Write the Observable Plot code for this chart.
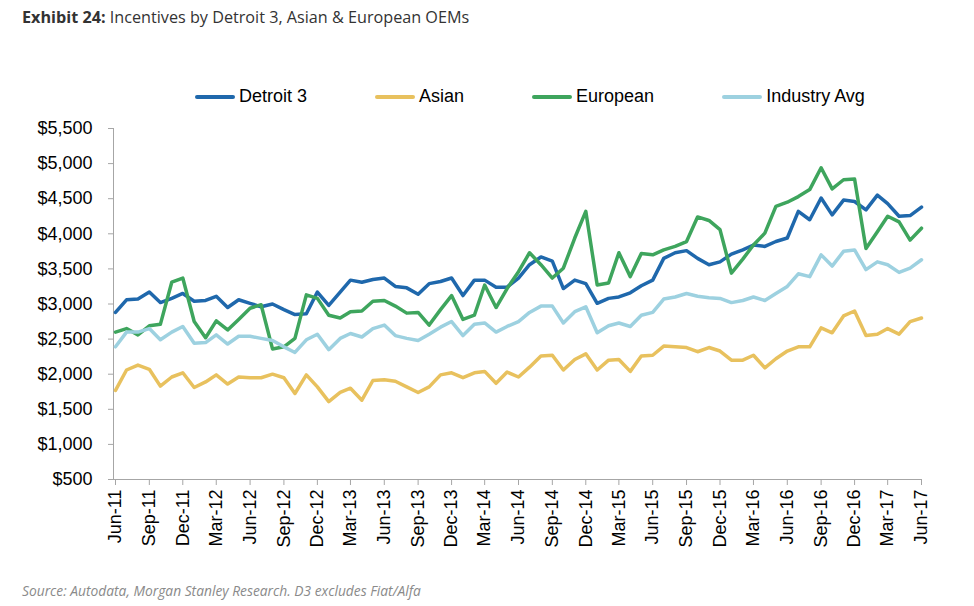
<!DOCTYPE html>
<html>
<head>
<meta charset="utf-8">
<script src="https://cdn.jsdelivr.net/npm/d3@7"></script>
<script src="https://cdn.jsdelivr.net/npm/@observablehq/plot@0.6"></script>
<style>
  html, body { margin: 0; padding: 0; background: #fff; }
  #page { position: relative; width: 974px; height: 606px; overflow: hidden; }
  #title { position: absolute; left: 22px; top: 6px; font-family: "Open Sans", sans-serif; font-size: 16.2px; color: #333; white-space: nowrap; }
  #title b { font-weight: 700; }
  #legend { position: absolute; left: 195px; top: 86px; display: flex; gap: 68px; font-family: "Liberation Sans", Arial, sans-serif; font-size: 18px; color: #000; }
  .item { display: flex; align-items: center; gap: 4px; }
  .swatch { width: 40px; height: 4px; border-radius: 2px; }
  #chart { position: absolute; left: 0; top: 110px; }
  #source { position: absolute; left: 22px; top: 581px; font-family: "Open Sans", sans-serif; font-style: italic; font-size: 13.8px; color: #8a8a8a; white-space: nowrap; }
</style>
</head>
<body>
<div id="page">
  <div id="title"><b>Exhibit 24:</b> Incentives by Detroit 3, Asian &amp; European OEMs</div>
  <div id="legend"></div>
  <div id="chart"></div>
  <div id="source">Source: Autodata, Morgan Stanley Research. D3 excludes Fiat/Alfa</div>
</div>
<script>
// ---- Data (monthly, Jun-11 .. Jun-17) ----
const seriesNames = ["Detroit 3", "Asian", "European", "Industry Avg"];
const seriesColors = ["#1f68ac", "#e8c15e", "#3ea55d", "#9dd1e0"];

const detroit3 = [
  2880, 3060, 3070, 3170, 3020, 3080, 3150,
  3040, 3050, 3110, 2950, 3060, 3010, 2960, 3000, 2920, 2850, 2860, 3170,
  2980, 3170, 3340, 3310, 3350, 3370, 3250, 3230, 3140, 3290, 3320, 3370,
  3120, 3340, 3340, 3240, 3240, 3370, 3560, 3670, 3610, 3220, 3340, 3290,
  3010, 3080, 3100, 3160, 3260, 3340, 3650, 3730, 3760, 3650, 3560, 3600,
  3710, 3770, 3840, 3820, 3890, 3940, 4320, 4200, 4510, 4270, 4480, 4460,
  4340, 4550, 4430, 4250, 4260, 4380
];
const asian = [
  1770, 2060, 2130, 2070, 1830, 1960, 2020,
  1810, 1890, 1990, 1860, 1960, 1950, 1950, 2000, 1950, 1725, 1990, 1820,
  1610, 1740, 1800, 1630, 1910, 1920, 1900, 1820, 1740, 1820, 1990, 2020,
  1950, 2020, 2040, 1870, 2030, 1960, 2100, 2260, 2270, 2060, 2210, 2290,
  2060, 2200, 2210, 2040, 2260, 2270, 2400, 2390, 2380, 2320, 2380, 2330,
  2200, 2200, 2270, 2090, 2220, 2330, 2390, 2390, 2660, 2590, 2830, 2900,
  2550, 2570, 2650, 2570, 2750, 2800
];
const european = [
  2600, 2650, 2560, 2690, 2710, 3310, 3370,
  2750, 2520, 2760, 2630, 2780, 2940, 2990, 2360, 2390, 2510, 3130, 3080,
  2840, 2800, 2890, 2900, 3040, 3050, 2970, 2870, 2880, 2700, 2920, 3120,
  2780, 2840, 3270, 2950, 3220, 3460, 3730, 3560, 3370, 3510, 3940, 4320,
  3270, 3300, 3730, 3390, 3720, 3700, 3770, 3820, 3890, 4240, 4190, 4060,
  3440, 3640, 3840, 4010, 4390, 4450, 4530, 4630, 4940, 4640, 4770, 4780,
  3790, 4030, 4250, 4170, 3910, 4080
];
const industryAvg = [
  2390, 2600, 2600, 2650, 2490, 2600, 2680,
  2440, 2450, 2560, 2430, 2540, 2540, 2510, 2480, 2390, 2310, 2490, 2570,
  2350, 2510, 2580, 2530, 2650, 2700, 2550, 2510, 2480, 2570, 2670, 2750,
  2550, 2710, 2730, 2600, 2680, 2750, 2880, 2970, 2970, 2730, 2890, 2960,
  2590, 2690, 2730, 2680, 2840, 2880, 3070, 3100, 3150, 3110, 3090, 3080,
  3020, 3050, 3100, 3050, 3150, 3250, 3430, 3390, 3700, 3540, 3750, 3770,
  3490, 3600, 3560, 3450, 3510, 3630
];
const xTickLabels = ["Jun-11","Sep-11","Dec-11","Mar-12","Jun-12","Sep-12","Dec-12","Mar-13","Jun-13","Sep-13","Dec-13","Mar-14","Jun-14","Sep-14","Dec-14","Mar-15","Jun-15","Sep-15","Dec-15","Mar-16","Jun-16","Sep-16","Dec-16","Mar-17","Jun-17"];
const yTicks = [500, 1000, 1500, 2000, 2500, 3000, 3500, 4000, 4500, 5000, 5500];

// ---- Build table ----
const parseMonth = d3.utcParse("%b-%y");
const fmtMonth = d3.utcFormat("%b-%y");
const firstMonth = parseMonth(xTickLabels[0]);
const lastMonth = parseMonth(xTickLabels[xTickLabels.length - 1]);
const months = d3.utcMonths(firstMonth, d3.utcMonth.offset(lastMonth, 1));
const seriesValues = [detroit3, asian, european, industryAvg];
const rows = [];
seriesNames.forEach((name, si) => {
  seriesValues[si].forEach((v, i) => rows.push({ series: name, date: months[i], value: v }));
});

// ---- Legend ----
const legend = document.getElementById("legend");
seriesNames.forEach((name, i) => {
  const item = document.createElement("div");
  item.className = "item";
  const sw = document.createElement("span");
  sw.className = "swatch";
  sw.style.background = seriesColors[i];
  const label = document.createElement("span");
  label.textContent = name;
  item.append(sw, label);
  legend.append(item);
});

// ---- Chart ----
const chart = Plot.plot({
  width: 974,
  height: 450,
  marginTop: 18,
  marginBottom: 81,
  marginLeft: 113,
  marginRight: 53,
  style: { fontFamily: "'Liberation Sans', Arial, sans-serif", fontSize: "18px", color: "#000", background: "transparent" },
  x: { type: "utc", domain: [firstMonth, lastMonth], range: [115, 921] },
  y: { domain: [500, 5500] },
  color: { domain: seriesNames, range: seriesColors },
  marks: [
    Plot.frame({ anchor: "left", stroke: "#a6a6a6" }),
    Plot.frame({ anchor: "bottom", stroke: "#a6a6a6" }),
    Plot.axisY({ ticks: yTicks, tickFormat: d => "$" + d3.format(",")(d), tickSize: 5, tickPadding: 16, stroke: "#a6a6a6", fill: "#000", fontSize: 18, label: null }),
    Plot.axisX({ ticks: xTickLabels.map(parseMonth), tickFormat: fmtMonth, tickRotate: -90, tickSize: 6, tickPadding: 4, stroke: "#a6a6a6", fill: "#000", fontSize: 18, label: null }),
    Plot.line(rows, { x: "date", y: "value", z: "series", stroke: "series", strokeWidth: 3.5, strokeLinejoin: "round", strokeLinecap: "round" })
  ]
});
document.getElementById("chart").append(chart);
</script>
</body>
</html>
